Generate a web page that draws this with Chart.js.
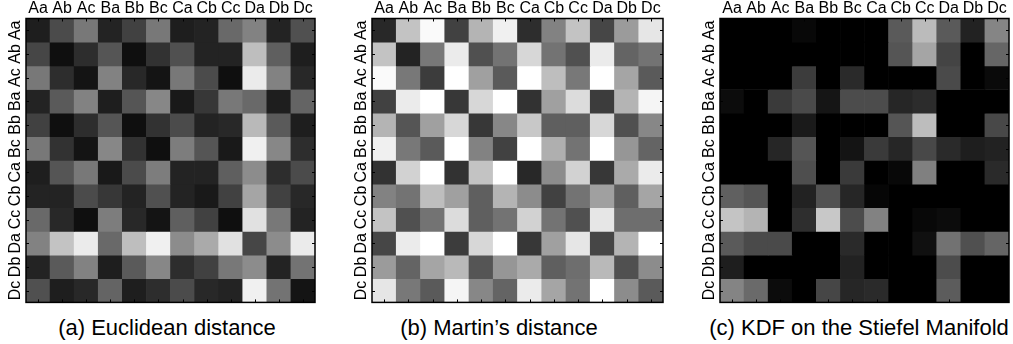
<!DOCTYPE html>
<html>
<head>
<meta charset="utf-8">
<script src="https://cdn.jsdelivr.net/npm/chart.js@4.4.1/dist/chart.umd.min.js"></script>
<style>
    html, body { margin: 0; padding: 0; background: #fff; }
    body { width: 1013px; height: 344px; position: relative; overflow: hidden; font-family: "Liberation Sans", Arial, sans-serif; }
    .panel { position: absolute; top: 0; }
    .caption { position: absolute; top: 315px; width: 400px; font-size: 22px; line-height: 25px; white-space: nowrap; text-align: center; color: #000; }
</style>
</head>
<body>
<div class="panel" style="left:0px"><canvas id="chartA" width="318" height="312"></canvas></div>
<div class="panel" style="left:346px"><canvas id="chartB" width="320" height="312"></canvas></div>
<div class="panel" style="left:694px"><canvas id="chartC" width="318" height="312"></canvas></div>
<div class="caption" style="left:-33px">(a) Euclidean distance</div>
<div class="caption" style="left:299px">(b) Martin’s distance</div>
<div class="caption" style="left:659px">(c) KDF on the Stiefel Manifold</div>
<script>
// class labels, same order on both axes
const labels = ['Aa', 'Ab', 'Ac', 'Ba', 'Bb', 'Bc', 'Ca', 'Cb', 'Cc', 'Da', 'Db', 'Dc'];

// cell intensities (0 = black, 255 = white), one row per class
const euclidean = [
    [30, 75, 120, 35, 65, 120, 30, 35, 105, 130, 35, 80],
    [70, 15, 45, 85, 15, 50, 80, 35, 35, 190, 95, 30],
    [120, 45, 20, 130, 40, 20, 120, 75, 15, 235, 130, 40],
    [35, 90, 130, 30, 85, 135, 25, 55, 120, 105, 30, 100],
    [65, 15, 45, 85, 15, 50, 75, 35, 40, 185, 90, 30],
    [120, 50, 20, 135, 50, 15, 125, 85, 25, 240, 135, 45],
    [30, 85, 120, 25, 75, 125, 35, 35, 95, 140, 45, 75],
    [35, 35, 75, 55, 35, 80, 35, 25, 65, 165, 65, 40],
    [105, 40, 15, 125, 40, 20, 95, 65, 15, 225, 120, 35],
    [130, 195, 235, 105, 190, 240, 140, 170, 225, 70, 140, 235],
    [35, 90, 130, 30, 90, 135, 45, 65, 120, 140, 35, 115],
    [80, 30, 40, 100, 30, 45, 75, 40, 35, 240, 115, 20]
];

const martin = [
    [40, 195, 250, 65, 180, 240, 45, 130, 195, 70, 155, 230],
    [195, 35, 120, 235, 80, 115, 215, 115, 80, 235, 100, 115],
    [250, 120, 60, 255, 160, 90, 255, 190, 120, 255, 165, 90],
    [65, 235, 255, 55, 215, 255, 50, 160, 220, 60, 180, 245],
    [180, 85, 160, 215, 55, 135, 200, 95, 95, 215, 80, 135],
    [240, 120, 90, 255, 130, 65, 255, 175, 115, 255, 150, 100],
    [50, 210, 255, 50, 195, 255, 40, 140, 210, 55, 170, 235],
    [130, 115, 190, 160, 95, 180, 140, 65, 115, 160, 95, 165],
    [195, 80, 115, 220, 95, 115, 210, 115, 80, 230, 110, 110],
    [70, 235, 255, 60, 215, 255, 55, 160, 230, 70, 180, 255],
    [155, 100, 165, 185, 85, 150, 170, 95, 110, 185, 80, 140],
    [230, 120, 90, 245, 135, 100, 235, 165, 115, 255, 140, 90]
];

const kdf = [
    [0, 0, 0, 8, 0, 0, 0, 90, 187, 90, 34, 133],
    [0, 0, 0, 0, 0, 0, 0, 85, 165, 68, 0, 102],
    [0, 0, 0, 60, 0, 42, 0, 0, 0, 74, 0, 10],
    [12, 0, 58, 74, 21, 76, 76, 38, 44, 0, 0, 0],
    [0, 0, 0, 26, 0, 0, 0, 85, 189, 0, 0, 72],
    [0, 0, 38, 85, 0, 20, 58, 38, 72, 42, 30, 34],
    [0, 0, 0, 78, 0, 58, 0, 8, 128, 0, 0, 42],
    [96, 85, 0, 34, 82, 38, 6, 0, 0, 0, 0, 0],
    [196, 180, 0, 46, 200, 76, 130, 0, 8, 12, 0, 0],
    [90, 74, 74, 0, 0, 42, 0, 0, 16, 114, 80, 101],
    [30, 0, 0, 0, 0, 34, 0, 0, 0, 76, 0, 0],
    [132, 106, 12, 0, 70, 38, 42, 0, 0, 92, 0, 0]
];

const tickFont = { family: '"Liberation Sans", Arial, sans-serif', size: 16 };

function gray(v) {
    const g = Math.round(Math.max(0, Math.min(255, v)));
    return `rgb(${g},${g},${g})`;
}

// black box round the plot plus small inward ticks, matlab style
const framePlugin = {
    id: 'frame',
    afterDatasetsDraw(chart) {
        const { ctx, chartArea: a, scales } = chart;
        ctx.save();
        ctx.strokeStyle = '#000';
        ctx.lineWidth = 1;
        ctx.beginPath();
        scales.x.ticks.forEach((t, i) => {
            const px = Math.round(scales.x.getPixelForTick(i)) + 0.5;
            ctx.moveTo(px, a.top); ctx.lineTo(px, a.top + 3);
            ctx.moveTo(px, a.bottom); ctx.lineTo(px, a.bottom - 3);
        });
        scales.y.ticks.forEach(t => {
            const py = Math.round(scales.y.getPixelForValue(t.value)) + 0.5;
            ctx.moveTo(a.left, py); ctx.lineTo(a.left + 3, py);
            ctx.moveTo(a.right, py); ctx.lineTo(a.right - 3, py);
        });
        ctx.stroke();
        ctx.lineWidth = 1.5;
        ctx.strokeRect(a.left, a.top, a.right - a.left, a.bottom - a.top);
        ctx.restore();
    }
};

function renderHeatmap(id, matrix) {
    new Chart(document.getElementById(id), {
        type: 'bar',
        data: {
            labels: labels,
            // one stacked dataset per row, each cell one unit tall
            datasets: matrix.map((row, r) => ({
                label: labels[r],
                data: labels.map(() => 1),
                backgroundColor: row.map(gray),
                borderWidth: 0,
                barPercentage: 1,
                categoryPercentage: 1
            }))
        },
        options: {
            responsive: false,
            animation: false,
            events: [],
            layout: { padding: { left: 0, top: 0, right: 3, bottom: 3 } },
            plugins: {
                legend: { display: false },
                tooltip: { enabled: false }
            },
            scales: {
                x: {
                    position: 'top',
                    stacked: true,
                    offset: true,
                    grid: { display: false, drawTicks: false },
                    border: { display: false },
                    ticks: { color: '#000', font: tickFont, padding: 0, maxRotation: 0, autoSkip: false },
                    afterFit: s => { s.height = 18.5; }
                },
                y: {
                    stacked: true,
                    reverse: true,
                    min: 0,
                    max: 12,
                    grid: { display: false, drawTicks: false },
                    border: { display: false },
                    afterBuildTicks: s => { s.ticks = labels.map((_, i) => ({ value: i + 0.5 })); },
                    ticks: {
                        color: '#000',
                        font: tickFont,
                        minRotation: 90,
                        maxRotation: 90,
                        crossAlign: 'center',
                        padding: 0,
                        autoSkip: false,
                        callback: v => labels[Math.floor(v)]
                    },
                    afterFit: s => { s.width = 26; }
                }
            }
        },
        plugins: [framePlugin]
    });
}

renderHeatmap('chartA', euclidean);
renderHeatmap('chartB', martin);
renderHeatmap('chartC', kdf);
</script>
</body>
</html>
